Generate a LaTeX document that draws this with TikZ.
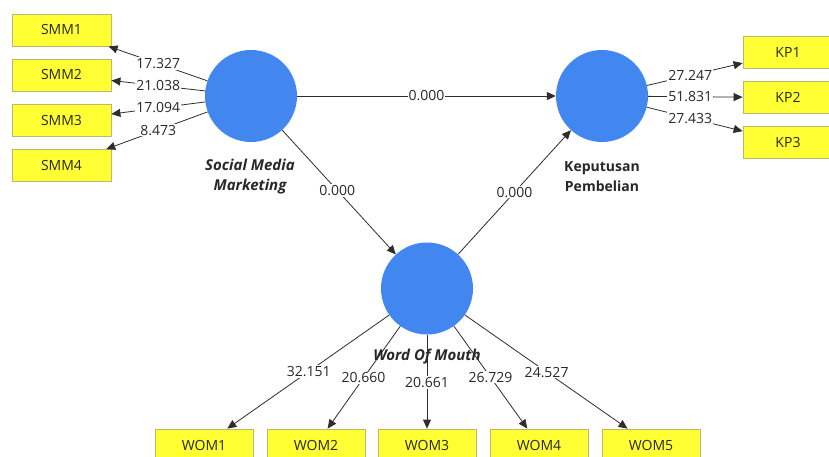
\documentclass[tikz,border=0pt]{standalone}
\usepackage{fontspec}
\setmainfont{Open Sans}
\usetikzlibrary{arrows.meta,calc}
\definecolor{boxfill}{RGB}{255,255,51}
\definecolor{boxline}{RGB}{185,185,110}
\definecolor{lvblue}{RGB}{66,135,240}
\definecolor{lncol}{RGB}{45,45,45}
\definecolor{txtcol}{RGB}{40,40,40}
\begin{document}
\begin{tikzpicture}[x=1pt,y=-1pt,
  ind/.style={draw=boxline, fill=boxfill, minimum width=99pt, minimum height=32pt, inner sep=0pt, text=txtcol, font=\fontsize{14}{16}\selectfont, line width=0.8pt},
  lat/.style={circle, fill=lvblue, minimum size=92pt, inner sep=0pt},
  arr/.style={draw=lncol, line width=0.8pt, -{Triangle[length=9pt,width=8pt]}},
  lbl/.style={fill=white, inner sep=1pt, text=txtcol, font=\fontsize{14}{15}\selectfont},
  lvname/.style={font=\fontsize{15}{20}\selectfont\bfseries\itshape, align=center, text=txtcol},
  lvnameup/.style={font=\fontsize{14}{20}\selectfont\bfseries, align=center, text=txtcol}
]
\useasboundingbox (0,0) rectangle (829,457);
\fill[white] (0,0) rectangle (829,457);

% latent variables
\node[lat] (smm) at (251,96) {};
\node[lat] (kp) at (602,96) {};
\node[lat] (wom) at (427,288.5) {};

% indicators
\node[ind] (smm1) at (61.5,30) {SMM1};
\node[ind] (smm2) at (61.5,75) {SMM2};
\node[ind] (smm3) at (61.5,120.5) {SMM3};
\node[ind] (smm4) at (61.5,165.5) {SMM4};

\node[ind, minimum width=90pt] (kp1) at (788,52.5) {KP1};
\node[ind, minimum width=90pt] (kp2) at (788,97.5) {KP2};
\node[ind, minimum width=90pt] (kp3) at (788,142.5) {KP3};

\node[ind, minimum width=98pt] (wom1) at (204,445) {WOM1};
\node[ind, minimum width=98pt] (wom2) at (316,445) {WOM2};
\node[ind, minimum width=98pt] (wom3) at (427,445) {WOM3};
\node[ind, minimum width=98pt] (wom4) at (539,445) {WOM4};
\node[ind, minimum width=98pt] (wom5) at (651,445) {WOM5};

% outer model arrows
\foreach \i in {1,...,4} \draw[arr] (smm) -- (smm\i);
\foreach \i in {1,...,3} \draw[arr] (kp) -- (kp\i);
\foreach \i in {1,...,5} \draw[arr] (wom) -- (wom\i);

% inner model arrows
\draw[arr] (smm) -- (kp);
\draw[arr] (smm) -- (wom);
\draw[arr] (wom) -- (kp);

% inner labels
\node[lbl] at ($(smm.center)!0.5!(kp.center)$) {0.000};
\node[lbl] at ($(smm.center)!0.49!(wom.center)$) {0.000};
\node[lbl] at ($(wom.center)!0.5!(kp.center)$) {0.000};

% outer labels
\node[lbl] at ($(smm.center)!0.49!(smm1.center)$) {17.327};
\node[lbl] at ($(smm.center)!0.49!(smm2.center)$) {21.038};
\node[lbl] at ($(smm.center)!0.49!(smm3.center)$) {17.094};
\node[lbl] at ($(smm.center)!0.49!(smm4.center)$) {8.473};

\node[lbl] at ($(kp.center)!0.474!(kp1.center)$) {27.247};
\node[lbl] at ($(kp.center)!0.474!(kp2.center)$) {51.831};
\node[lbl] at ($(kp.center)!0.474!(kp3.center)$) {27.433};

\node[lbl] at ($(wom.center)!0.53!(wom1.center)$) {32.151};
\node[lbl] at ($(wom.center)!0.572!(wom2.center)$) {20.660};
\node[lbl] at ($(wom.center)!0.60!(wom3.center)$) {20.661};
\node[lbl] at ($(wom.center)!0.566!(wom4.center)$) {26.729};
\node[lbl] at ($(wom.center)!0.534!(wom5.center)$) {24.527};

% latent names
\node[lvname] (smmname) at (250,177) {Social Media\\Marketing};
\node[lvnameup] (kpname) at (602,177) {Keputusan\\Pembelian};
\node[lvname] (womname) at (427,357) {Word Of Mouth};
\end{tikzpicture}
\end{document}
